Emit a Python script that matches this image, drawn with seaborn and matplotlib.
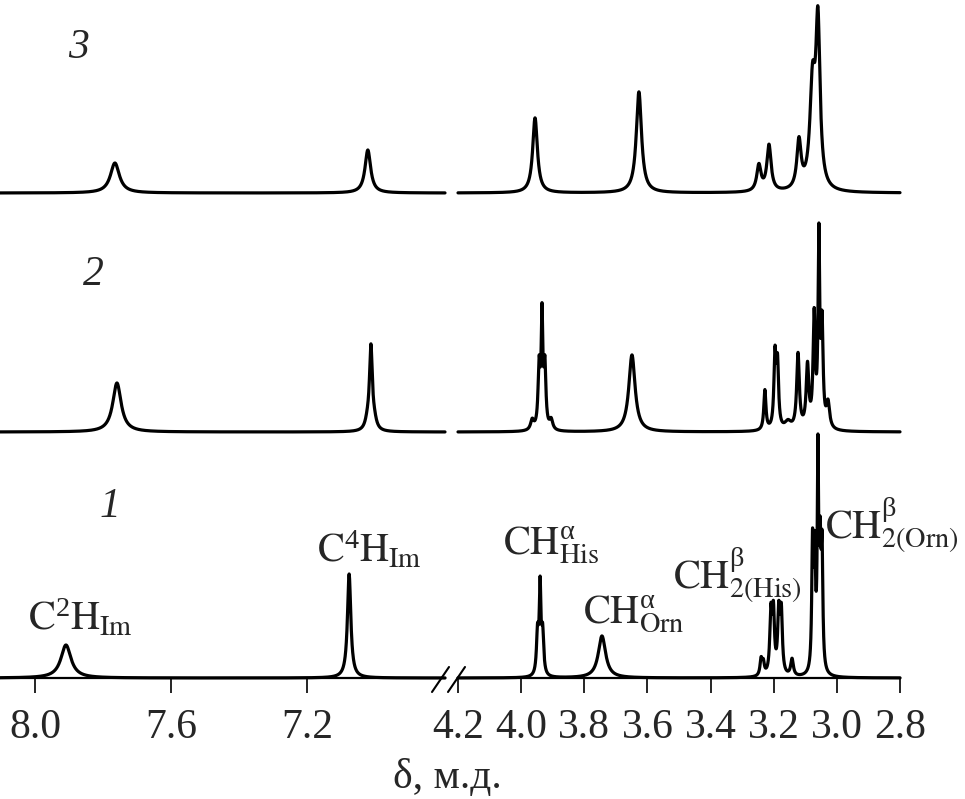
import numpy as np
import pandas as pd
import matplotlib.pyplot as plt
import seaborn as sns
from matplotlib.lines import Line2D

# peak lists: shift (ppm), height (a.u.), half-width (ppm)
t1_shift = [7.909, 7.076, 3.948, 3.940, 3.932, 3.744, 3.240, 3.233, 3.209, 3.201,
            3.184, 3.176, 3.142, 3.077, 3.070, 3.060, 3.053, 3.047]
t1_height = [33, 104, 42, 85, 42, 42, 16, 12, 60, 60, 60, 60, 17, 125, 110, 208, 110, 115]
t1_width = [0.018, 0.006, 0.004, 0.003, 0.004, 0.014, 0.004, 0.004, 0.004, 0.004,
            0.004, 0.004, 0.005, 0.003, 0.003, 0.0025, 0.003, 0.003]

t2_shift = [7.759, 7.022, 7.012, 7.002, 3.965, 3.943, 3.934, 3.925, 3.905, 3.649,
            3.228, 3.196, 3.188, 3.155, 3.123, 3.093, 3.072, 3.057, 3.047, 3.028]
t2_height = [49, 8, 82, 8, 10, 62, 108, 62, 10, 77, 40, 72, 62, 8, 75, 62, 110, 185, 100, 25]
t2_width = [0.015, 0.008, 0.005, 0.008, 0.006, 0.004, 0.003, 0.004, 0.006, 0.012,
            0.004, 0.004, 0.004, 0.012, 0.005, 0.005, 0.004, 0.003, 0.004, 0.006]

t3_shift = [7.765, 7.021, 3.956, 3.627, 3.247, 3.215, 3.120, 3.077, 3.060]
t3_height = [30, 43, 75, 101, 26, 46, 48, 100, 160]
t3_width = [0.016, 0.010, 0.009, 0.010, 0.008, 0.008, 0.008, 0.010, 0.008]

trace_names = ["1", "2", "3"]
trace_offsets = [0, 246, 485]

left_lim = (8.103, 6.794)
right_lim = (4.2, 2.8)
left_ticks = [8.0, 7.6, 7.2]
right_ticks = [4.2, 4.0, 3.8, 3.6, 3.4, 3.2, 3.0, 2.8]


def spectrum(x, shifts, heights, widths):
    y = np.zeros_like(x)
    for s, h, w in zip(shifts, heights, widths):
        y += h / (1 + ((x - s) / w) ** 2)
    return y


peaks = [(t1_shift, t1_height, t1_width),
         (t2_shift, t2_height, t2_width),
         (t3_shift, t3_height, t3_width)]

sns.set_theme(style="white")
plt.rcParams["font.family"] = ["Liberation Serif", "DejaVu Serif"]
plt.rcParams["mathtext.fontset"] = "stix"
plt.rcParams["mathtext.default"] = "regular"

W, H = 965, 799
fig = plt.figure(figsize=(W / 100, H / 100), dpi=100)


def fx(px):
    return px / W


def fy(py):
    return 1 - py / H


base = 678
ax_l = fig.add_axes([fx(0), fy(base), fx(445), base / H])
ax_r = fig.add_axes([fx(458), fy(base), fx(900) - fx(458), base / H])

for ax, lim, ticks, n in [(ax_l, left_lim, left_ticks, 3000),
                          (ax_r, right_lim, right_ticks, 8000)]:
    x = np.linspace(lim[0], lim[1], n)
    for name, off, (s, h, w) in zip(trace_names, trace_offsets, peaks):
        df = pd.DataFrame({"ppm": x, "y": spectrum(x, s, h, w) + off})
        sns.lineplot(data=df, x="ppm", y="y", ax=ax, color="black", lw=2.3,
                     estimator=None, sort=False, clip_on=False)
    ax.set_xlim(lim)
    ax.set_ylim(0, base)
    ax.set_xticks(ticks)
    ax.set_xticklabels([f"{t:.1f}" for t in ticks])
    ax.set_yticks([])
    ax.set_xlabel("")
    ax.set_ylabel("")
    for side in ["left", "top", "right"]:
        ax.spines[side].set_visible(False)
    ax.spines["bottom"].set_linewidth(1.6)
    ax.spines["bottom"].set_color("black")
    ax.tick_params(axis="x", direction="out", length=10.8, width=1.2,
                   color="black", pad=11, labelsize=30, bottom=True)
    ax.patch.set_alpha(0)

# axis break marks
for x0, x1 in [(432, 449), (448, 465)]:
    fig.add_artist(Line2D([fx(x0), fx(x1)], [fy(692), fy(667)],
                          color="black", lw=1.5))

fig.text(fx(447), fy(788), "δ, м.д.", ha="center", va="baseline", fontsize=30)

# trace numbers
for name, (px, py) in zip(trace_names, [(110, 517), (93, 285), (78, 58)]):
    fig.text(fx(px), fy(py), name, ha="center", va="baseline",
             fontsize=30, style="italic")

# peak assignments
labels = [
    (28, 630, r"$\mathrm{C}^{2}\mathrm{H}_{\mathrm{Im}}$"),
    (317, 562, r"$\mathrm{C}^{4}\mathrm{H}_{\mathrm{Im}}$"),
    (503, 555, r"$\mathrm{CH}^{α}_{\mathrm{His}}$"),
    (583, 623, r"$\mathrm{CH}^{α}_{\mathrm{Orn}}$"),
    (673, 587, r"$\mathrm{CH}^{β}_{\mathrm{2(His)}}$"),
    (825, 538, r"$\mathrm{CH}^{β}_{\mathrm{2(Orn)}}$"),
]
for px, py, s in labels:
    fig.text(fx(px), fy(py), s, ha="left", va="baseline", fontsize=29)

fig.savefig("out.png", dpi=100)
